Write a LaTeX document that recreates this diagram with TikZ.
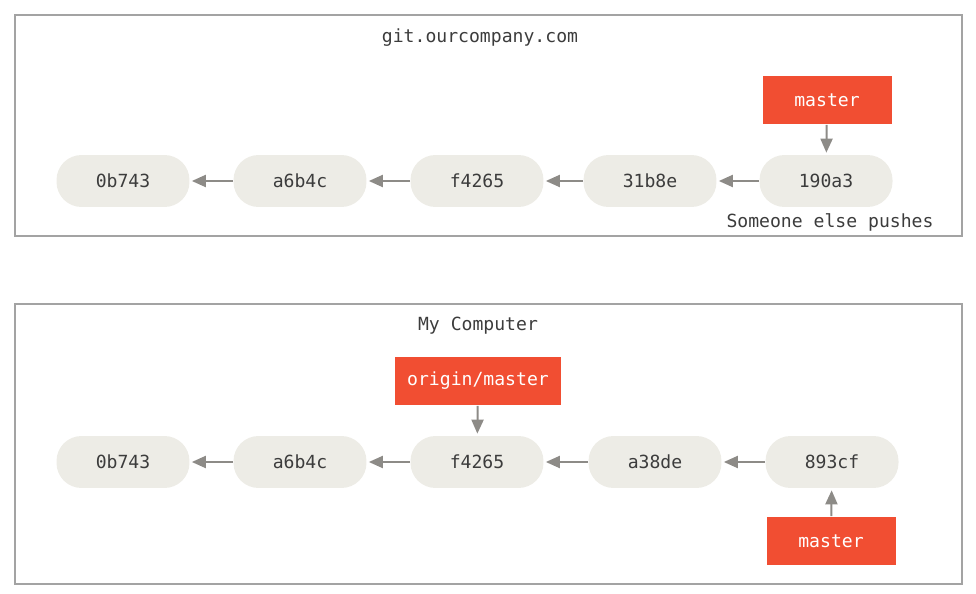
\documentclass[tikz,border=0pt]{standalone}
\usepackage{fontspec}
\setmonofont{DejaVu Sans Mono}
\usetikzlibrary{arrows.meta}
\definecolor{commitbg}{HTML}{EDECE6}
\definecolor{branchred}{HTML}{F14E32}
\definecolor{arrowgray}{HTML}{8D8B87}
\definecolor{framegray}{HTML}{A3A3A3}
\definecolor{textgray}{HTML}{3C3C3C}
\newcommand{\gitfont}{\ttfamily\fontsize{10.3}{12}\selectfont}
\tikzset{
  commit/.style={rectangle, rounded corners=0.5cm, fill=commitbg, minimum width=2.66cm, minimum height=1.04cm, font=\gitfont, text=textgray},
  branch/.style={fill=branchred, minimum height=0.98cm, minimum width=2.58cm, font=\gitfont, text=white},
  parent/.style={-{Triangle[length=0.28cm,width=0.24cm]}, draw=arrowgray, line width=0.04cm, shorten >=0.04cm},
  frame/.style={draw=framegray, line width=0.03cm},
  caption/.style={font=\gitfont, text=textgray}
}
\begin{document}
\begin{tikzpicture}[x=0.02cm,y=-0.02cm]
  \useasboundingbox (0,0) rectangle (976,594);
  % server
  \draw[frame] (15,15) rectangle (962,236);
  \node[caption] (server) at (480,38) {git.ourcompany.com};
  \node[commit] (s1) at (123,181) {0b743};
  \node[commit] (s2) at (300,181) {a6b4c};
  \node[commit] (s3) at (477,181) {f4265};
  \node[commit] (s4) at (650,181) {31b8e};
  \node[commit] (s5) at (826,181) {190a3};
  \foreach \a/\b in {s2/s1,s3/s2,s4/s3,s5/s4}
    \draw[parent] (\a) -- (\b);
  \node[branch] (smaster) at (827,100) {master};
  \draw[parent] (smaster) -- (s5);
  \node[caption] (push) at (830,222) {Someone else pushes};
  % local
  \draw[frame] (15,304) rectangle (962,584);
  \node[caption] (local) at (478,326) {My Computer};
  \node[commit] (l1) at (123,462) {0b743};
  \node[commit] (l2) at (300,462) {a6b4c};
  \node[commit] (l3) at (477,462) {f4265};
  \node[commit] (l4) at (655,462) {a38de};
  \node[commit] (l5) at (832,462) {893cf};
  \foreach \a/\b in {l2/l1,l3/l2,l4/l3,l5/l4}
    \draw[parent] (\a) -- (\b);
  \node[branch, minimum width=3.34cm] (origin) at (478,381) {origin/master};
  \draw[parent] (origin) -- (l3);
  \node[branch] (lmaster) at (831,541) {master};
  \draw[parent] (lmaster) -- (l5);
\end{tikzpicture}
\end{document}
